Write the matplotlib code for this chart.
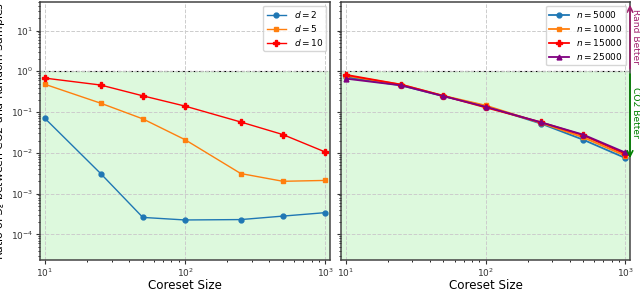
import matplotlib
matplotlib.use("Agg")
import matplotlib.pyplot as plt

# coreset sizes
sizes = [10, 25, 50, 100, 250, 500, 1000]

# left panel: varying dimension
d_labels = ['$d = 2$', '$d = 5$', '$d = 10$']
d2 = [0.07, 0.0031, 2.6e-4, 2.25e-4, 2.3e-4, 2.8e-4, 3.4e-4]
d5 = [0.48, 0.165, 0.068, 0.021, 0.0031, 0.0020, 0.0021]
d10 = [0.68, 0.46, 0.25, 0.14, 0.057, 0.028, 0.0105]

# right panel: varying number of points
n_labels = ['$n = 5000$', '$n = 10000$', '$n = 15000$', '$n = 25000$']
n5000 = [0.72, 0.45, 0.245, 0.14, 0.052, 0.021, 0.0075]
n10000 = [0.78, 0.47, 0.25, 0.145, 0.054, 0.024, 0.0085]
n15000 = [0.82, 0.47, 0.25, 0.13, 0.056, 0.027, 0.0095]
n25000 = [0.66, 0.45, 0.245, 0.135, 0.056, 0.028, 0.0102]

fig = plt.figure(figsize=(6.4, 2.89), dpi=100)
ax1 = fig.add_axes([40/640, 29/289, 290/640, 258/289])
ax2 = fig.add_axes([341/640, 29/289, 289/640, 258/289], sharey=ax1)

ymin, ymax = 10**-4.63, 10**1.7

def style(ax):
    ax.set_xscale('log')
    ax.set_yscale('log')
    ax.set_xlim(10**0.965, 10**3.035)
    ax.set_ylim(ymin, ymax)
    ax.axhspan(ymin, 1, color='#90ee90', alpha=0.3, lw=0, zorder=0)
    ax.axhline(1, color='black', ls='--', lw=0.8, zorder=1)
    ax.grid(True, which='major', ls='--', color='#cccccc', lw=0.7)
    ax.tick_params(labelsize=6.5, colors='#333333', pad=2)
    ax.tick_params(which='major', length=3)
    ax.tick_params(which='minor', length=1.5)
    for s in ax.spines.values():
        s.set_color('#444444')
        s.set_linewidth(1.1)
    ax.set_xlabel('Coreset Size', fontsize=8.6, labelpad=0)

style(ax1)
style(ax2)

leg_kw = dict(loc='upper right', fontsize=6.5, handlelength=2.2, borderaxespad=0.4,
              labelspacing=0.35, borderpad=0.35)

ax1.plot(sizes, d2, marker='o', ms=3.5, lw=1.0, color='tab:blue', label=d_labels[0])
ax1.plot(sizes, d5, marker='s', ms=3.5, lw=1.0, color='tab:orange', label=d_labels[1])
ax1.plot(sizes, d10, marker='P', ms=5, lw=1.0, color='red', label=d_labels[2])
ax1.set_ylabel('Ratio of $S_\\epsilon$ between CO2 and Random Samples', fontsize=7.8, labelpad=1)
ax1.yaxis.set_label_coords(-0.115, 0.5)
ax1.legend(**leg_kw)

ax2.plot(sizes, n5000, marker='o', ms=3.5, lw=1.3, color='tab:blue', label=n_labels[0])
ax2.plot(sizes, n10000, marker='s', ms=3.5, lw=1.3, color='tab:orange', label=n_labels[1])
ax2.plot(sizes, n15000, marker='P', ms=5, lw=1.3, color='red', label=n_labels[2])
ax2.plot(sizes, n25000, marker='^', ms=3.5, lw=1.3, color='purple', label=n_labels[3])
ax2.tick_params(labelleft=False)
ax2.legend(**leg_kw)

# annotations right of the right panel
ax2.annotate('', xy=(1.0, ymax), xytext=(1.0, 1), xycoords=('axes fraction', 'data'),
             arrowprops=dict(arrowstyle='->', color='#a0206e', lw=1.2), annotation_clip=False)
ax2.annotate('', xy=(1.0, 10**-2.2), xytext=(1.0, 1), xycoords=('axes fraction', 'data'),
             arrowprops=dict(arrowstyle='->', color='green', lw=1.2), annotation_clip=False)
ax2.text(1.019, 10**0.85, 'Rand Better', transform=ax2.get_yaxis_transform(), rotation=-90,
         color='#a0206e', fontsize=6.6, ha='center', va='center')
ax2.text(1.019, 10**-1.0, 'CO2 Better', transform=ax2.get_yaxis_transform(), rotation=-90,
         color='green', fontsize=6.6, ha='center', va='center')

plt.savefig('out.png', dpi=100)
